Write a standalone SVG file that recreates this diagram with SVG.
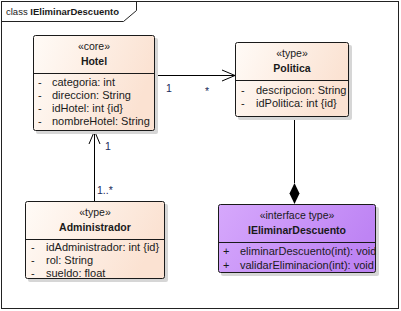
<svg xmlns="http://www.w3.org/2000/svg" width="401" height="311" viewBox="0 0 401 311">
<defs>
<linearGradient id="gc" x1="0" y1="0" x2="1" y2="0.3">
<stop offset="0" stop-color="#FFFBF7"/>
<stop offset="1" stop-color="#FBE2D2"/>
</linearGradient>
<linearGradient id="gi" x1="0" y1="0" x2="1" y2="0.3">
<stop offset="0" stop-color="#D6A8FC"/>
<stop offset="1" stop-color="#BE84F4"/>
</linearGradient>
<style>
text{font-family:"Liberation Sans",Arial,sans-serif;font-size:11px;fill:#1a1a1a}
.n{font-weight:bold;text-anchor:middle;font-size:10.5px}
.s{text-anchor:middle;font-size:10.5px}
.m{fill:#1a2a5a;font-size:10.5px}
.box{stroke:#1a1a1a;stroke-width:1}
.sh{fill:#d6d6d6}
.ln{stroke:#000;stroke-width:1;fill:none}
</style>
</defs>
<rect x="0" y="0" width="401" height="311" fill="#fff"/>
<rect x="1.5" y="1.5" width="397" height="307" fill="none" stroke="#222"/>
<path d="M1.5,21.5 H123.5 L136.5,10.5 V1.5" fill="none" stroke="#222"/>
<text x="6" y="15" style="font-size:9.5px">class <tspan font-weight="bold">IEliminarDescuento</tspan></text>

<g id="connectors">
<path class="ln" d="M155,75.5 H235"/>
<path class="ln" d="M222,70 L235,75.5 L222,81"/>
<text class="m" x="166" y="92">1</text>
<text class="m" x="205" y="95">*</text>
<path class="ln" d="M94.5,131 V201"/>
<path class="ln" d="M89,144 L94.5,131 L100,144"/>
<text class="m" x="105" y="150">1</text>
<text class="m" x="97" y="194">1..*</text>
<path class="ln" d="M294.5,117 V183"/>
<path d="M294.5,183 L299.5,193.5 L294.5,204 L289.5,193.5 Z" fill="#000"/>
</g>

<g id="Hotel">
<rect class="sh" x="36" y="38" width="122" height="96" rx="2"/>
<rect class="box" x="33.5" y="35.5" width="121" height="95" rx="2" fill="url(#gc)"/>
<line class="box" x1="33.5" y1="73.5" x2="154.5" y2="73.5"/>
<text class="s" x="94" y="50">«core»</text>
<text class="n" x="94" y="65">Hotel</text>
<text x="38" y="86">-</text><text x="52" y="86">categoria: int</text>
<text x="38" y="99">-</text><text x="52" y="99">direccion: String</text>
<text x="38" y="112">-</text><text x="52" y="112">idHotel: int {id}</text>
<text x="38" y="125">-</text><text x="52" y="125">nombreHotel: String</text>
</g>

<g id="Politica">
<rect class="sh" x="238" y="45" width="114" height="75" rx="2"/>
<rect class="box" x="235.5" y="42.5" width="113" height="74" rx="2" fill="url(#gc)"/>
<line class="box" x1="235.5" y1="80.5" x2="348.5" y2="80.5"/>
<text class="s" x="292" y="57">«type»</text>
<text class="n" x="292" y="72">Politica</text>
<text x="241" y="94">-</text><text x="256" y="94">descripcion: String</text>
<text x="241" y="107">-</text><text x="256" y="107">idPolitica: int {id}</text>
</g>

<g id="Administrador">
<rect class="sh" x="28" y="204" width="140" height="78" rx="2"/>
<rect class="box" x="25.5" y="201.5" width="139" height="77" rx="2" fill="url(#gc)"/>
<line class="box" x1="25.5" y1="239.5" x2="164.5" y2="239.5"/>
<text class="s" x="95" y="216">«type»</text>
<text class="n" x="95" y="231">Administrador</text>
<text x="31" y="251">-</text><text x="46" y="251">idAdministrador: int {id}</text>
<text x="31" y="264">-</text><text x="46" y="264">rol: String</text>
<text x="31" y="277">-</text><text x="46" y="277">sueldo: float</text>
</g>

<g id="IEliminarDescuento">
<rect class="sh" x="221" y="207" width="158" height="69" rx="2"/>
<rect class="box" x="218.5" y="204.5" width="157" height="68" rx="2" fill="url(#gi)"/>
<line class="box" x1="218.5" y1="242.5" x2="375.5" y2="242.5"/>
<text class="s" x="297" y="219">«interface type»</text>
<text class="n" x="297" y="234">IEliminarDescuento</text>
<text x="223" y="255">+</text><text x="240" y="255">eliminarDescuento(int): void</text>
<text x="223" y="269">+</text><text x="240" y="269">validarEliminacion(int): void</text>
</g>
</svg>
